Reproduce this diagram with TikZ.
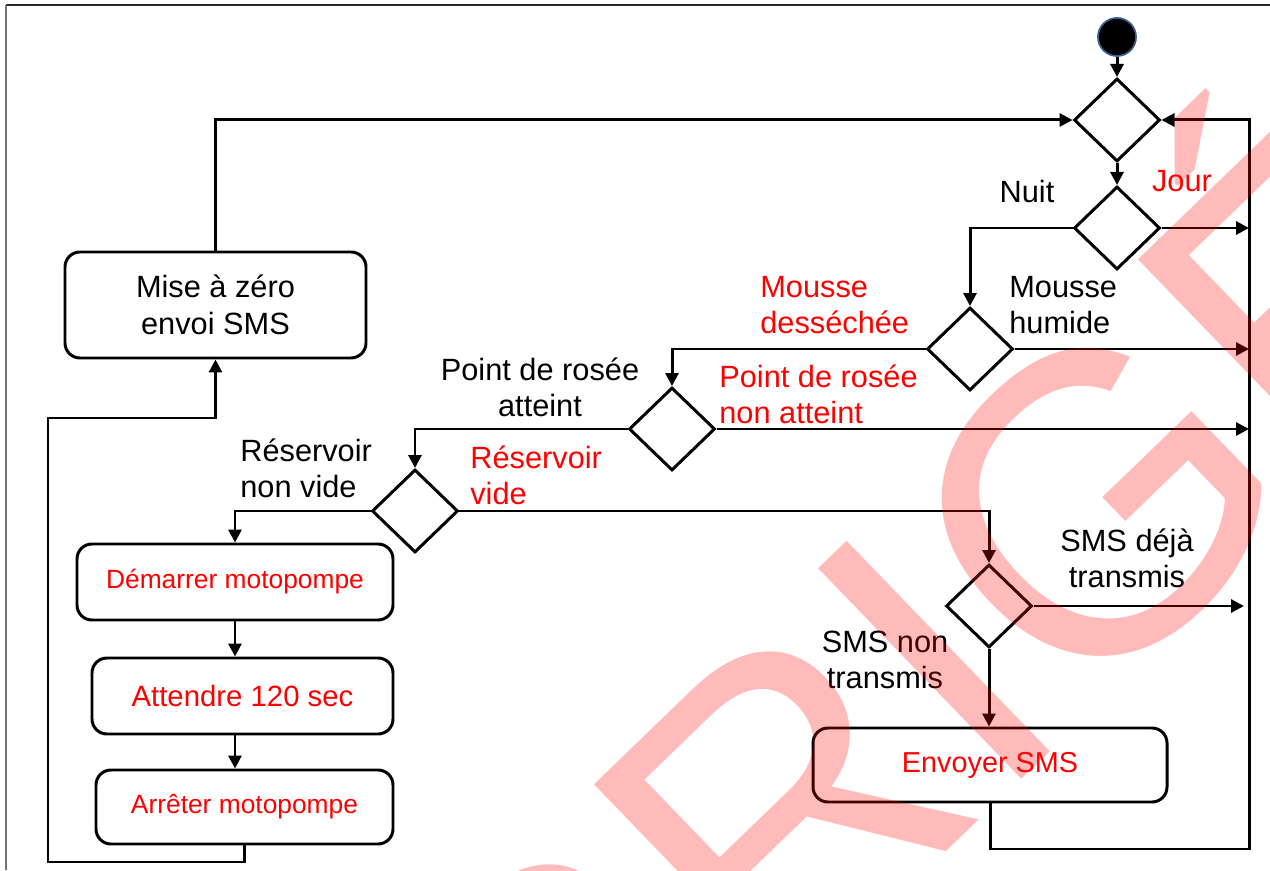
\documentclass[tikz,border=0pt]{standalone}
\usepackage{fontspec}
\setmainfont{Liberation Sans}
\usepackage{xcolor}
\usetikzlibrary{arrows.meta,shapes.geometric}

\definecolor{rouge}{RGB}{255,0,0}
\definecolor{bordstart}{RGB}{56,93,138}

\tikzset{
  fleche/.style={-{Triangle[length=0.26cm,width=0.26cm]}, line width=1.7pt},
  choix/.style={diamond, draw, line width=1.7pt, minimum width=1.72cm,
    minimum height=1.66cm, inner sep=0pt},
  action/.style={rectangle, rounded corners=0.3cm, draw, line width=1.7pt,
    align=center, inner sep=0pt},
  etiq/.style={align=center, inner sep=0pt, font=\fontsize{17.5}{20.5}\selectfont}
}

\begin{document}
\begin{tikzpicture}
    \useasboundingbox (0,0) rectangle (25.4,17.4);
    % cadre
    \draw [black!85, line width=1.2pt] (0.12,17.3) -- (25.4,17.3);
    \draw [black!55, line width=0.8pt] (0.12,0) -- (0.12,17.3);

    % depart
    \node [circle, fill=black, draw=bordstart, line width=1pt, minimum size=0.76cm,
      inner sep=0pt] (debut) at (22.34,16.66) {};

    % losanges
    \node [choix] (jonction) at (22.34,15.0) {};
    \node [choix] (jour) at (22.34,12.84) {};
    \node [choix] (mousse) at (19.40,10.42) {};
    \node [choix] (rosee) at (13.44,8.82) {};
    \node [choix] (reservoir) at (8.30,7.18) {};
    \node [choix] (sms) at (19.78,5.28) {};

    % actions
    \node [action, minimum width=6.02cm, minimum height=2.12cm,
      font=\fontsize{17.5}{21}\selectfont] (raz) at (4.31,11.30) {Mise à zéro\\envoi SMS};
    \node [action, text=rouge, minimum width=6.32cm, minimum height=1.52cm,
      font=\fontsize{15}{18}\selectfont] (demarrer) at (4.70,5.76) {Démarrer motopompe};
    \node [action, text=rouge, minimum width=6.02cm, minimum height=1.52cm,
      font=\fontsize{16.7}{20}\selectfont] (attendre) at (4.85,3.48) {Attendre 120 sec};
    \node [action, text=rouge, minimum width=5.94cm, minimum height=1.48cm,
      font=\fontsize{15}{18}\selectfont] (arreter) at (4.89,1.26) {Arrêter motopompe};
    \node [action, text=rouge, minimum width=7.08cm, minimum height=1.48cm,
      font=\fontsize{16.4}{20}\selectfont] (envoyer) at (19.80,2.10) {Envoyer SMS};

    % retour a droite
    \coordinate (busjour) at (24.98,12.84);
    \coordinate (busmousse) at (24.98,10.42);
    \coordinate (busrosee) at (24.98,8.82);
    \coordinate (bussms) at (24.88,5.28);
    \coordinate (busbas) at (24.98,0.42);
    \coordinate (bushaut) at (24.98,15.0);
    % retour a gauche
    \coordinate (boucle) at (0.96,0.16);
    \coordinate (boucleh) at (0.96,9.04);

    % fleches
    \draw [fleche] (debut) -- (jonction);
    \draw [fleche] (jonction) -- (jour);
    \draw [fleche] (jour.east) -- (busjour);
    \draw [fleche] (jour.west) -| (mousse.north);
    \draw [fleche] (mousse.east) -- (busmousse);
    \draw [fleche] (mousse.west) -| (rosee.north);
    \draw [fleche] (rosee.east) -- (busrosee);
    \draw [fleche] (rosee.west) -| (reservoir.north);
    \draw [fleche] (reservoir.west) -| (demarrer.north);
    \draw [fleche] (reservoir.east) -| (sms.north);
    \draw [fleche] (sms.east) -- (bussms);
    \draw [fleche] (sms.south) -- (sms.south |- envoyer.north);
    \draw [fleche] (envoyer.south) |- (busbas) -- (bushaut) -- (jonction.east);
    \draw [fleche] (demarrer.south) -- (demarrer.south |- attendre.north);
    \draw [fleche] (attendre.south -| demarrer.south) -- (demarrer.south |- arreter.north);
    \draw [fleche] (arreter.south) |- (boucle) -- (boucleh) -| (raz.south);
    \draw [fleche] (raz.north) |- (jonction.west);

    % conditions
    \node [etiq] (nuit) at (20.54,13.56) {Nuit};
    \node [etiq, text=rouge] (lbljour) at (23.64,13.78) {Jour};
    \node [etiq, text=rouge, anchor=west, align=left] (seche) at (15.2,11.30) {Mousse\\desséchée};
    \node [etiq, anchor=west, align=left] (humide) at (20.18,11.30) {Mousse\\humide};
    \node [etiq] (atteint) at (10.80,9.65) {Point de rosée\\atteint};
    \node [etiq, text=rouge, anchor=west, align=left] (nonatteint) at (14.38,9.51) {Point de rosée\\non atteint};
    \node [etiq, anchor=west, align=left] (nonvide) at (4.80,8.03) {Réservoir\\non vide};
    \node [etiq, text=rouge, anchor=west, align=left] (vide) at (9.40,7.90) {Réservoir\\vide};
    \node [etiq] (deja) at (22.54,6.23) {SMS déjà\\transmis};
    \node [etiq] (nontransmis) at (17.70,4.20) {SMS non\\transmis};

    % filigrane
    \begin{scope}
        \clip (0,0) rectangle (25.4,17.4);
        \node [rotate=44, anchor=base, inner sep=0pt, text=rouge, opacity=0.27,
          font=\fontsize{242}{242}\selectfont] (filigrane) at (16.14,-2.33) {CORRIGÉ};
    \end{scope}
\end{tikzpicture}
\end{document}
